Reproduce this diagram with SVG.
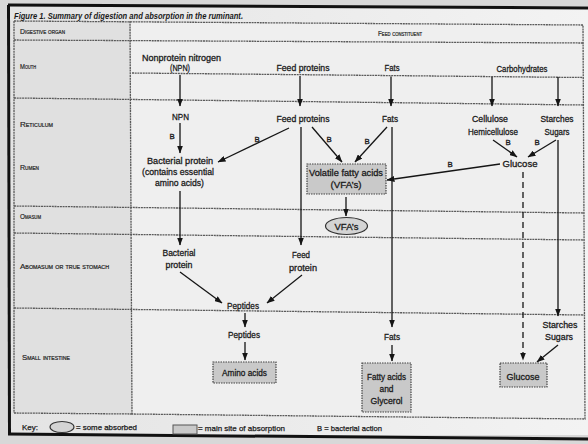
<svg xmlns="http://www.w3.org/2000/svg" width="588" height="444" viewBox="0 0 588 444">
<defs>
<marker id="ah" markerUnits="userSpaceOnUse" markerWidth="8" markerHeight="6" refX="7.5" refY="3" orient="auto">
<path d="M0,0 L8,3 L0,6 z" fill="#151515"/>
</marker>
<linearGradient id="bg" x1="0" y1="0" x2="1" y2="0">
<stop offset="0" stop-color="#e4e4e4"/>
<stop offset="1" stop-color="#f3f3f3"/>
</linearGradient>
<style>
text{font-family:"Liberation Sans",Arial,sans-serif;fill:#1a1a1a}
.t{font-size:9.3px;text-anchor:middle;stroke:#1a1a1a;stroke-width:0.3}
.lab{font-size:7.5px;font-variant:small-caps;fill:#262626;stroke:#262626;stroke-width:0.2}
.b{font-size:7.8px;text-anchor:middle;stroke:#1a1a1a;stroke-width:0.3}
.grid{stroke:#5a5a5a;stroke-width:1.3;stroke-dasharray:2 0.7;fill:none}
.frame{stroke:#111;stroke-width:3;fill:none}
.c{stroke:#151515;stroke-width:1.3;fill:none;marker-end:url(#ah)}
.box{fill:#c9c9c9;stroke:#444;stroke-width:1.2;stroke-dasharray:1.5 1}
.key{font-size:8px;stroke:#1a1a1a;stroke-width:0.25}
</style>
</defs>
<rect width="588" height="444" fill="#d8d8d8"/>
<rect x="9" y="6" width="579" height="429" fill="url(#bg)"/>
<polygon points="14,21 131,22 132,414 14,413" fill="#e0e0e0"/>
<polygon points="131,22 583,25 585,419 132,414" fill="#efefef"/>
<g id="grid">
<polyline class="grid" points="14,21 583,25 585,419 132,414"/>
<line class="grid" x1="14" y1="21" x2="14" y2="413"/>
<line class="grid" x1="14" y1="413" x2="132" y2="414"/>
<line class="grid" x1="130" y1="21" x2="132" y2="414"/>
<line class="grid" x1="14" y1="40" x2="583" y2="43"/>
<line class="grid" x1="132" y1="73" x2="583" y2="77.5"/>
<line class="grid" x1="14" y1="98" x2="583" y2="105"/>
<line class="grid" x1="14" y1="206" x2="584" y2="213"/>
<line class="grid" x1="14" y1="233" x2="584" y2="240"/>
<line class="grid" x1="14" y1="308" x2="584" y2="315"/>
</g>
<g id="frame">
<line class="frame" x1="8" y1="5" x2="588" y2="8"/>
<line class="frame" x1="8.5" y1="5" x2="9.5" y2="435"/>
<line class="frame" x1="8" y1="434" x2="588" y2="439"/>
</g>
<text x="14" y="18.5" font-size="9.5" font-weight="bold" font-style="italic" textLength="229" lengthAdjust="spacingAndGlyphs">Figure 1. Summary of digestion and absorption in the ruminant.</text>
<g id="labels">
<text class="lab" x="20" y="34" textLength="45" lengthAdjust="spacingAndGlyphs">Digestive organ</text>
<text class="lab" x="378" y="36" textLength="44" lengthAdjust="spacingAndGlyphs">Feed constituent</text>
<text class="lab" x="20" y="69" textLength="16" lengthAdjust="spacingAndGlyphs">Mouth</text>
<text class="lab" x="20" y="127" textLength="33" lengthAdjust="spacingAndGlyphs">Reticulum</text>
<text class="lab" x="20" y="170" textLength="19" lengthAdjust="spacingAndGlyphs">Rumen</text>
<text class="lab" x="20" y="219" textLength="21" lengthAdjust="spacingAndGlyphs">Omasum</text>
<text class="lab" x="20" y="269" textLength="89" lengthAdjust="spacingAndGlyphs">Abomasum or true stomach</text>
<text class="lab" x="22" y="360" textLength="48" lengthAdjust="spacingAndGlyphs">Small intestine</text>
</g>
<g id="connectors">
<line class="c" x1="180" y1="75" x2="180" y2="106"/>
<line class="c" x1="300" y1="76" x2="300" y2="106"/>
<line class="c" x1="391" y1="76.5" x2="391" y2="106"/>
<line class="c" x1="492" y1="77" x2="492" y2="106"/>
<line class="c" x1="558" y1="77" x2="558" y2="106"/>
<line class="c" x1="180" y1="123" x2="180" y2="153"/>
<line class="c" x1="289" y1="128" x2="218" y2="162"/>
<line class="c" x1="312" y1="127" x2="342" y2="162"/>
<line class="c" x1="387" y1="127" x2="355" y2="162"/>
<line class="c" x1="301" y1="127" x2="301" y2="245"/>
<line class="c" x1="392" y1="127" x2="392" y2="327"/>
<line class="c" x1="493" y1="140" x2="517" y2="157"/>
<line class="c" x1="556" y1="140" x2="528" y2="157"/>
<line class="c" x1="500" y1="164" x2="387" y2="180"/>
<line class="c" x1="558" y1="140" x2="558" y2="316"/>
<line class="c" x1="523" y1="172" x2="523" y2="360" stroke-dasharray="6 4"/>
<line class="c" x1="346" y1="197" x2="346" y2="216"/>
<line class="c" x1="180" y1="191" x2="180" y2="245"/>
<line class="c" x1="180" y1="272" x2="222" y2="303"/>
<line class="c" x1="302" y1="275" x2="267" y2="303"/>
<line class="c" x1="245" y1="313" x2="245" y2="327"/>
<line class="c" x1="245" y1="342" x2="245" y2="360"/>
<line class="c" x1="392" y1="345" x2="392" y2="361"/>
<line class="c" x1="558" y1="345" x2="537" y2="362"/>
</g>
<g id="b-labels">
<text class="b" x="172" y="139">B</text>
<text class="b" x="257" y="142">B</text>
<text class="b" x="329" y="142">B</text>
<text class="b" x="367" y="144">B</text>
<text class="b" x="508" y="145">B</text>
<text class="b" x="537" y="145">B</text>
<text class="b" x="450" y="167">B</text>
</g>
<g id="npn-mouth"><text class="t" x="181.5" y="61" textLength="79" lengthAdjust="spacingAndGlyphs">Nonprotein nitrogen</text><text class="t" x="180" y="71" textLength="20" lengthAdjust="spacingAndGlyphs">(NPN)</text></g>
<g id="feedprot-mouth"><text class="t" x="303" y="71" textLength="53" lengthAdjust="spacingAndGlyphs">Feed proteins</text></g>
<g id="fats-mouth"><text class="t" x="392" y="71" textLength="15" lengthAdjust="spacingAndGlyphs">Fats</text></g>
<g id="carbs-mouth"><text class="t" x="522" y="72" textLength="51" lengthAdjust="spacingAndGlyphs">Carbohydrates</text></g>
<g id="npn"><text class="t" x="180.5" y="120" textLength="17" lengthAdjust="spacingAndGlyphs">NPN</text></g>
<g id="feedprot"><text class="t" x="303" y="122" textLength="53" lengthAdjust="spacingAndGlyphs">Feed proteins</text></g>
<g id="fats"><text class="t" x="390" y="122" textLength="16" lengthAdjust="spacingAndGlyphs">Fats</text></g>
<g id="cellulose"><text class="t" x="490" y="122" textLength="36" lengthAdjust="spacingAndGlyphs">Cellulose</text><text class="t" x="493" y="135" textLength="50" lengthAdjust="spacingAndGlyphs">Hemicellulose</text></g>
<g id="starches"><text class="t" x="557" y="122" textLength="33" lengthAdjust="spacingAndGlyphs">Starches</text><text class="t" x="557" y="135" textLength="25" lengthAdjust="spacingAndGlyphs">Sugars</text></g>
<g id="bact-protein"><text class="t" x="180" y="164" textLength="66" lengthAdjust="spacingAndGlyphs">Bacterial protein</text><text class="t" x="178" y="175" textLength="72" lengthAdjust="spacingAndGlyphs">(contains essential</text><text class="t" x="179.5" y="186" textLength="49" lengthAdjust="spacingAndGlyphs">amino acids)</text></g>
<g id="vfa"><rect class="box" x="307" y="164" width="79" height="30"/><text class="t" x="346" y="176" textLength="74" lengthAdjust="spacingAndGlyphs">Volatile fatty acids</text><text class="t" x="346" y="188" textLength="31" lengthAdjust="spacingAndGlyphs">(VFA’s)</text></g>
<g id="glucose-rumen"><text class="t" x="520" y="167" textLength="35" lengthAdjust="spacingAndGlyphs">Glucose</text></g>
<g id="vfa-omasum"><ellipse cx="346.5" cy="226" rx="21" ry="8.5" fill="#d4d4d4" stroke="#333" stroke-width="1.2"/><text class="t" x="346.5" y="229.5" textLength="24" lengthAdjust="spacingAndGlyphs">VFA’s</text></g>
<g id="bact-abomasum"><text class="t" x="179" y="256" textLength="33" lengthAdjust="spacingAndGlyphs">Bacterial</text><text class="t" x="179" y="268" textLength="27" lengthAdjust="spacingAndGlyphs">protein</text></g>
<g id="feedprot-abomasum"><text class="t" x="301" y="258" textLength="18" lengthAdjust="spacingAndGlyphs">Feed</text><text class="t" x="303" y="271" textLength="28" lengthAdjust="spacingAndGlyphs">protein</text></g>
<g id="peptides-abomasum"><text class="t" x="243" y="309" textLength="32" lengthAdjust="spacingAndGlyphs">Peptides</text></g>
<g id="peptides-si"><text class="t" x="244" y="338" textLength="32" lengthAdjust="spacingAndGlyphs">Peptides</text></g>
<g id="amino"><rect class="box" x="213" y="362" width="63" height="21"/><text class="t" x="244.5" y="376" textLength="45" lengthAdjust="spacingAndGlyphs">Amino acids</text></g>
<g id="fats-si"><text class="t" x="392" y="340" textLength="16" lengthAdjust="spacingAndGlyphs">Fats</text></g>
<g id="fatty"><rect class="box" x="362" y="363" width="49" height="49"/><text class="t" x="386.5" y="380" textLength="39" lengthAdjust="spacingAndGlyphs">Fatty acids</text><text class="t" x="386.5" y="392" textLength="14" lengthAdjust="spacingAndGlyphs">and</text><text class="t" x="386.5" y="404" textLength="32" lengthAdjust="spacingAndGlyphs">Glycerol</text></g>
<g id="starches-si"><text class="t" x="560" y="328" textLength="35" lengthAdjust="spacingAndGlyphs">Starches</text><text class="t" x="559" y="340" textLength="28" lengthAdjust="spacingAndGlyphs">Sugars</text></g>
<g id="glucose-si"><rect class="box" x="500" y="363" width="47" height="24"/><text class="t" x="523" y="380" textLength="33" lengthAdjust="spacingAndGlyphs">Glucose</text></g>
<g id="key">
<text class="key" x="22" y="430" textLength="16" lengthAdjust="spacingAndGlyphs">Key:</text>
<ellipse cx="62" cy="427" rx="12" ry="5.5" fill="#d4d4d4" stroke="#333" stroke-width="1.1"/>
<text class="key" x="76" y="430" textLength="61" lengthAdjust="spacingAndGlyphs">= some absorbed</text>
<rect x="173" y="425" width="24" height="9" fill="#c9c9c9" stroke="#555" stroke-width="1"/>
<text class="key" x="198" y="431" textLength="87" lengthAdjust="spacingAndGlyphs">= main site of absorption</text>
<text class="key" x="317" y="431" textLength="65" lengthAdjust="spacingAndGlyphs">B = bacterial action</text>
</g>
</svg>
